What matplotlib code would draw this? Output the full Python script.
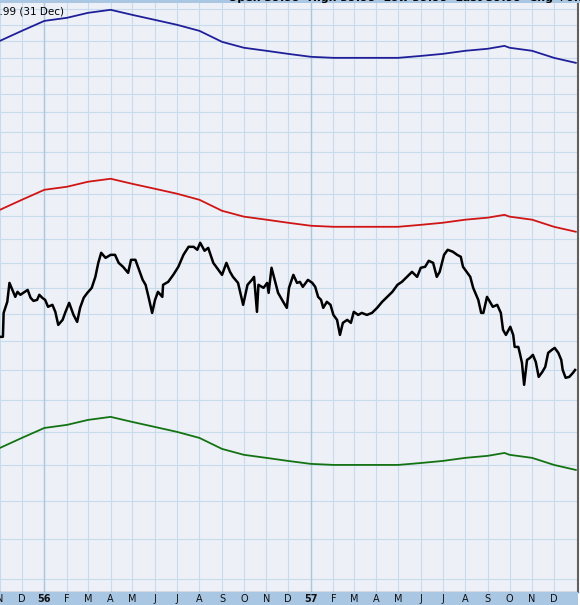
import matplotlib
matplotlib.use("Agg")
import matplotlib.pyplot as plt
import matplotlib.ticker as mticker
import pandas as pd

# daily close, days counted from 1 Nov 1955
start = pd.Timestamp("1955-11-01")
close_day = [1, 4, 5, 10, 13, 17, 21, 24, 28, 32,
             38, 42, 46, 51, 54, 58, 62, 66, 72, 76,
             80, 86, 90, 95, 101, 106, 110, 115, 120, 126,
             131, 135, 139, 145, 152, 158, 163, 169, 176, 180,
             186, 190, 196, 200, 204, 209, 213, 217, 223, 224,
             231, 238, 245, 252, 259, 266, 271, 275, 281, 286,
             293, 300, 305, 311, 316, 320, 327, 334, 340, 346,
             349, 353, 355, 362, 367, 369, 373, 378, 382, 389,
             394, 397, 403, 408, 412, 416, 423, 429, 433, 437,
             441, 444, 449, 454, 458, 463, 467, 471, 477, 482,
             486, 492, 497, 504, 511, 518, 525, 532, 539, 546,
             552, 559, 566, 573, 578, 584, 589, 595, 600, 604,
             610, 615, 622, 628, 633, 636, 642, 646, 650, 654,
             657, 661, 664, 669, 673, 677, 683, 688, 691, 695,
             701, 705, 707, 712, 714, 717, 720, 724, 728, 732,
             736, 740, 745, 749, 753, 758, 762, 767, 771, 773,
             777, 782, 787, 790]
close = [42.31, 42.31, 44.07, 44.91, 46.38, 45.83, 45.29, 45.68, 45.45, 45.60,
         45.83, 45.22, 44.98, 45.06, 45.45, 45.22, 45.06, 44.53, 44.68, 44.15,
         43.18, 43.55, 44.15, 44.83, 43.92, 43.40, 44.45, 45.22, 45.60, 45.99,
         46.86, 47.99, 48.82, 48.40, 48.65, 48.65, 47.99, 47.67, 47.18, 48.24,
         48.24, 47.59, 46.62, 46.23, 45.29, 44.07, 45.06, 45.68, 45.29, 46.23,
         46.46, 47.02, 47.67, 48.65, 49.32, 49.32, 49.07, 49.66, 48.99, 49.23,
         47.99, 47.42, 47.02, 47.99, 47.26, 46.86, 46.38, 44.68, 46.23, 46.62,
         46.86, 44.15, 46.23, 45.99, 46.38, 45.60, 47.59, 46.46, 45.60, 44.91,
         44.45, 45.99, 47.02, 46.38, 46.46, 46.07, 46.62, 46.38, 46.07, 45.29,
         45.06, 44.45, 44.91, 44.68, 43.92, 43.55, 42.45, 43.33, 43.55, 43.33,
         44.15, 43.92, 44.07, 43.92, 44.07, 44.45, 44.91, 45.29, 45.68, 46.23,
         46.46, 46.86, 47.26, 46.86, 47.59, 47.67, 48.16, 47.99, 46.86, 47.26,
         48.65, 49.07, 48.91, 48.65, 48.49, 47.67, 47.18, 46.86, 45.99, 45.45,
         45.06, 44.07, 44.07, 45.29, 44.91, 44.53, 44.68, 44.07, 42.82, 42.45,
         43.04, 42.45, 41.59, 41.59, 41.17, 40.48, 38.99, 40.68, 40.82, 41.03,
         40.54, 39.52, 39.86, 40.20, 41.17, 41.38, 41.52, 41.17, 40.68, 39.99,
         39.46, 39.52, 39.79, 39.99]

# envelope lines
env_dates = ["1955-11-01", "1955-12-01", "1956-01-01", "1956-02-01", "1956-03-01",
             "1956-04-01", "1956-05-01", "1956-06-01", "1956-07-01", "1956-08-01",
             "1956-09-01", "1956-10-01", "1956-11-01", "1956-12-01", "1957-01-01",
             "1957-02-01", "1957-03-01", "1957-04-01", "1957-05-01", "1957-06-01",
             "1957-07-01", "1957-08-01", "1957-09-01", "1957-09-24", "1957-10-01",
             "1957-11-01", "1957-12-01", "1957-12-31"]
upper = [70.04, 71.24, 72.46, 72.84, 73.46, 73.84, 73.20, 72.58, 71.98, 71.24,
         69.92, 69.22, 68.86, 68.50, 68.16, 68.04, 68.04, 68.04, 68.04, 68.26,
         68.50, 68.86, 69.10, 69.44, 69.22, 68.86, 68.04, 67.46]
middle = [52.53, 53.43, 54.35, 54.63, 55.10, 55.38, 54.90, 54.44, 53.99, 53.43,
          52.44, 51.92, 51.65, 51.38, 51.12, 51.03, 51.03, 51.03, 51.03, 51.20,
          51.38, 51.65, 51.83, 52.08, 51.92, 51.65, 51.03, 50.60]
lower = [35.02, 35.62, 36.23, 36.42, 36.73, 36.92, 36.60, 36.29, 35.99, 35.62,
         34.96, 34.61, 34.43, 34.25, 34.08, 34.02, 34.02, 34.02, 34.02, 34.13,
         34.25, 34.43, 34.55, 34.72, 34.61, 34.43, 34.02, 33.73]

month_labels = ["N", "D", "56", "F", "M", "A", "M", "J", "J", "A", "S", "O", "N",
                "D", "57", "F", "M", "A", "M", "J", "J", "A", "S", "O", "N", "D"]
price_grid = list(range(28, 76, 2))

dates = start + pd.to_timedelta(close_day, unit="D")
env_x = pd.to_datetime(env_dates)
months = pd.date_range("1955-11-01", "1957-12-01", freq="MS")

W, H = 580, 605
fig = plt.figure(figsize=(W / 100, H / 100), dpi=100)
fig.patch.set_facecolor("white")
xlim = (pd.Timestamp("1955-11-01"), pd.Timestamp("1958-01-03"))

ax = fig.add_axes([0, 13 / H, 578 / W, 589 / H])
ax.set_facecolor("#eef0f8")
ax.set_yscale("log")
ax.set_ylim(27.4, 74.7)
ax.set_xlim(*xlim)
ax.yaxis.set_major_locator(mticker.FixedLocator(price_grid))
ax.yaxis.set_minor_locator(mticker.NullLocator())
ax.set_xticks(months)
ax.xaxis.set_minor_locator(mticker.NullLocator())
ax.tick_params(length=0, labelleft=False, labelbottom=False)
ax.grid(True, color="#c6dceb", lw=0.8)
for d in months[months.month == 1]:
    ax.axvline(d, color="#a9c8de", lw=1.0, zorder=0.6)
ax.set_axisbelow(True)
for s in ["left", "top"]:
    ax.spines[s].set_visible(False)
ax.spines["right"].set_color("#606060")
ax.spines["right"].set_linewidth(1.5)
ax.spines["bottom"].set_color("#6a7f96")
ax.spines["bottom"].set_linewidth(1.0)

ax.plot(env_x, upper, color="#1f1f99", lw=1.3)
ax.plot(env_x, middle, color="#d01515", lw=1.3)
ax.plot(env_x, lower, color="#137313", lw=1.3)
ax.plot(dates, close, color="black", lw=1.8)

# bottom date bar
bax = fig.add_axes([0, 0, 578 / W, 13 / H])
bax.set_facecolor("#a9c6e3")
bax.set_xlim(*xlim)
bax.set_ylim(0, 1)
bax.set_xticks([])
bax.set_yticks([])
for s in bax.spines.values():
    s.set_visible(False)
for d, lab in zip(months, month_labels):
    bold = lab.isdigit()
    bax.text(d, 0.45, lab, ha="center", va="center", fontsize=7,
             fontweight="bold" if bold else "normal", color="#111111")

# top header bar, mostly cut off
hax = fig.add_axes([0, (H - 3) / H, 1, 3 / H])
hax.set_facecolor("#a9c6e3")
hax.set_xticks([])
hax.set_yticks([])
for s in hax.spines.values():
    s.set_visible(False)
fig.text(228 / W, (H - 1.2) / H, "Open 39.99  High 39.99  Low 39.99  Last 39.99  Chg +0.11 (+0.28%)",
         ha="left", va="baseline", fontsize=8, fontweight="bold", color="black")
fig.text(64 / W, (H - 14) / H, "S&P 500 Index  39.99 (31 Dec)", ha="right",
         va="baseline", fontsize=7.5, color="black")

fig.savefig("out.png", dpi=100)
